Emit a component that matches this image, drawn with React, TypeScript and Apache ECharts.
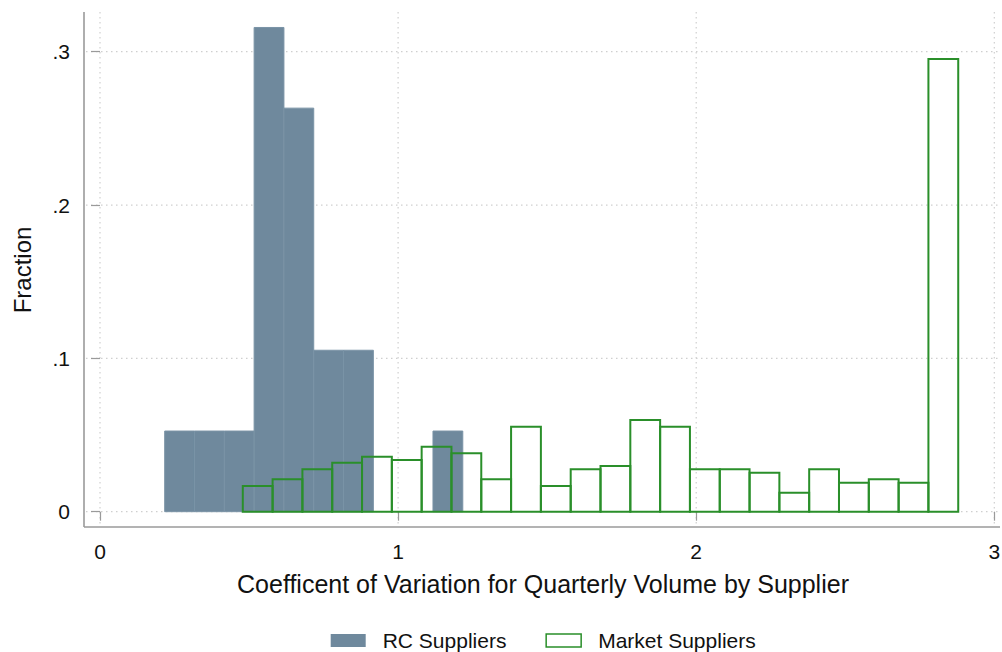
import React, { useEffect, useRef } from "react";
import * as echarts from "echarts";

// ---- data ----
const rcBinStart = 0.217;
const rcBinWidth = 0.1;
const rcFractions = [0.0526, 0.0526, 0.0526, 0.3158, 0.2632, 0.1053, 0.1053, 0, 0, 0.0526];

const marketBinStart = 0.479;
const marketBinWidth = 0.1;
const marketFractions = [
  0.0168, 0.0211, 0.0277, 0.032, 0.0359, 0.0337, 0.0424, 0.0381, 0.0211, 0.0554,
  0.0168, 0.0277, 0.0298, 0.0598, 0.0554, 0.0277, 0.0277, 0.0254, 0.0124, 0.0277,
  0.0189, 0.0211, 0.0189, 0.2953,
];

const xTicks = [0, 1, 2, 3];
const yTicks = [0, 0.1, 0.2, 0.3];
const yTickLabels = ["0", ".1", ".2", ".3"];

const seriesNames = ["RC Suppliers", "Market Suppliers"];
const xTitle = "Coefficent of Variation for Quarterly Volume by Supplier";
const yTitle = "Fraction";

// ---- styles ----
const FONT = "'Liberation Sans', Arial, Helvetica, sans-serif";
const RC_COLOR = "#6f899d";
const MKT_COLOR = "#2a8f2a";
const TEXT_COLOR = "#111111";
const AXIS_COLOR = "#9a9a9a";
const GRID_COLOR = "#cfcfcf";
const PLOT = { left: 84, right: 1000, top: 12, bottom: 527 };

function toBins(start: number, width: number, vals: number[]) {
  const out: number[][] = [];
  vals.forEach((v, i) => {
    if (v > 0) out.push([start + i * width, start + (i + 1) * width, v]);
  });
  return out;
}

export default function App() {
  const ref = useRef<HTMLDivElement>(null);

  useEffect(() => {
    document.body.style.margin = "0";
    const chart = echarts.init(ref.current!, null, { renderer: "svg" });

    const rectItem = (style: any) => (params: any, api: any) => {
      const x0 = api.value(0);
      const x1 = api.value(1);
      const h = api.value(2);
      const p0 = api.coord([x0, h]);
      const p1 = api.coord([x1, 0]);
      return {
        type: "rect",
        shape: { x: p0[0], y: p0[1], width: p1[0] - p0[0], height: p1[1] - p0[1] },
        style,
      };
    };

    chart.setOption({
      animation: false,
      grid: {
        left: 100,
        right: 7.7,
        top: 51.7,
        bottom: 140.3,
        containLabel: false,
        outerBoundsMode: "none",
      },
      xAxis: {
        type: "value",
        min: 0,
        max: 3,
        interval: 1,
        offset: 15.3,
        axisLine: { show: false },
        axisTick: { show: true, length: 9, lineStyle: { color: AXIS_COLOR, width: 1.2 } },
        axisLabel: {
          margin: 14,
          fontSize: 21,
          color: TEXT_COLOR,
          fontFamily: FONT,
          formatter: (v: number) => String(xTicks.find((t) => Math.abs(t - v) < 1e-9) ?? v),
        },
        splitLine: { show: false },
      },
      yAxis: {
        type: "value",
        min: 0,
        max: 0.3,
        interval: 0.1,
        offset: 16,
        axisLine: { show: false },
        axisTick: { show: true, length: 9, lineStyle: { color: AXIS_COLOR, width: 1.2 } },
        axisLabel: {
          margin: 14,
          fontSize: 21,
          color: TEXT_COLOR,
          fontFamily: FONT,
          formatter: (v: number) => {
            const i = yTicks.findIndex((t) => Math.abs(t - v) < 1e-9);
            return i >= 0 ? yTickLabels[i] : "";
          },
        },
        splitLine: { show: false },
      },
      legend: {
        left: 330.7,
        top: 630,
        padding: 0,
        itemWidth: 35,
        itemHeight: 13,
        itemGap: 39,
        selectedMode: false,
        textStyle: {
          fontSize: 21,
          lineHeight: 20,
          color: TEXT_COLOR,
          fontFamily: FONT,
          padding: [0, 0, 0, 12],
        },
        data: [
          { name: seriesNames[0], icon: "rect", itemStyle: { color: RC_COLOR, borderWidth: 0 } },
          {
            name: seriesNames[1],
            icon: "rect",
            itemStyle: { color: "#ffffff", borderColor: MKT_COLOR, borderWidth: 1.5 },
          },
        ],
      },
      series: [
        {
          name: seriesNames[0],
          type: "custom",
          z: 2,
          itemStyle: { color: RC_COLOR },
          encode: { x: [0, 1], y: 2 },
          renderItem: rectItem({ fill: RC_COLOR, stroke: "#7a93a6", lineWidth: 1 }),
          data: toBins(rcBinStart, rcBinWidth, rcFractions),
        },
        {
          name: seriesNames[1],
          type: "custom",
          z: 3,
          itemStyle: { color: MKT_COLOR },
          encode: { x: [0, 1], y: 2 },
          renderItem: rectItem({ fill: "none", stroke: MKT_COLOR, lineWidth: 2 }),
          data: toBins(marketBinStart, marketBinWidth, marketFractions),
        },
      ],
    });

    const px = (x: number, y: number) =>
      chart.convertToPixel({ xAxisIndex: 0, yAxisIndex: 0 }, [x, y]) as number[];

    const gridLines: any[] = [];
    xTicks.forEach((t) => {
      const x = px(t, 0)[0];
      gridLines.push({
        type: "line",
        z: 0,
        shape: { x1: x, y1: PLOT.top, x2: x, y2: PLOT.bottom - 2 },
        style: { stroke: GRID_COLOR, lineWidth: 1.2, lineDash: [1.5, 3.5] },
        silent: true,
      });
    });
    yTicks.forEach((t) => {
      const y = px(0, t)[1];
      gridLines.push({
        type: "line",
        z: 0,
        shape: { x1: PLOT.left + 2, y1: y, x2: PLOT.right, y2: y },
        style: { stroke: GRID_COLOR, lineWidth: 1.2, lineDash: [1.5, 3.5] },
        silent: true,
      });
    });

    chart.setOption({
      graphic: [
        ...gridLines,
        {
          type: "line",
          z: 5,
          shape: { x1: PLOT.left, y1: PLOT.bottom, x2: PLOT.right, y2: PLOT.bottom },
          style: { stroke: AXIS_COLOR, lineWidth: 1.6 },
          silent: true,
        },
        {
          type: "line",
          z: 5,
          shape: { x1: PLOT.left, y1: PLOT.top, x2: PLOT.left, y2: PLOT.bottom },
          style: { stroke: AXIS_COLOR, lineWidth: 1.6 },
          silent: true,
        },
        {
          type: "text",
          z: 5,
          x: 22,
          y: 270,
          rotation: Math.PI / 2,
          style: {
            text: yTitle,
            fontSize: 24,
            fontFamily: FONT,
            fill: TEXT_COLOR,
            textAlign: "center",
            textVerticalAlign: "middle",
          },
        },
        {
          type: "text",
          z: 5,
          x: 543,
          y: 584,
          style: {
            text: xTitle,
            fontSize: 25,
            fontFamily: FONT,
            fill: TEXT_COLOR,
            textAlign: "center",
            textVerticalAlign: "middle",
          },
        },
      ],
    });

    return () => chart.dispose();
  }, []);

  return (
    <div
      ref={ref}
      style={{ position: "fixed", left: 0, top: 0, width: 1002, height: 652, background: "#fff" }}
    />
  );
}
